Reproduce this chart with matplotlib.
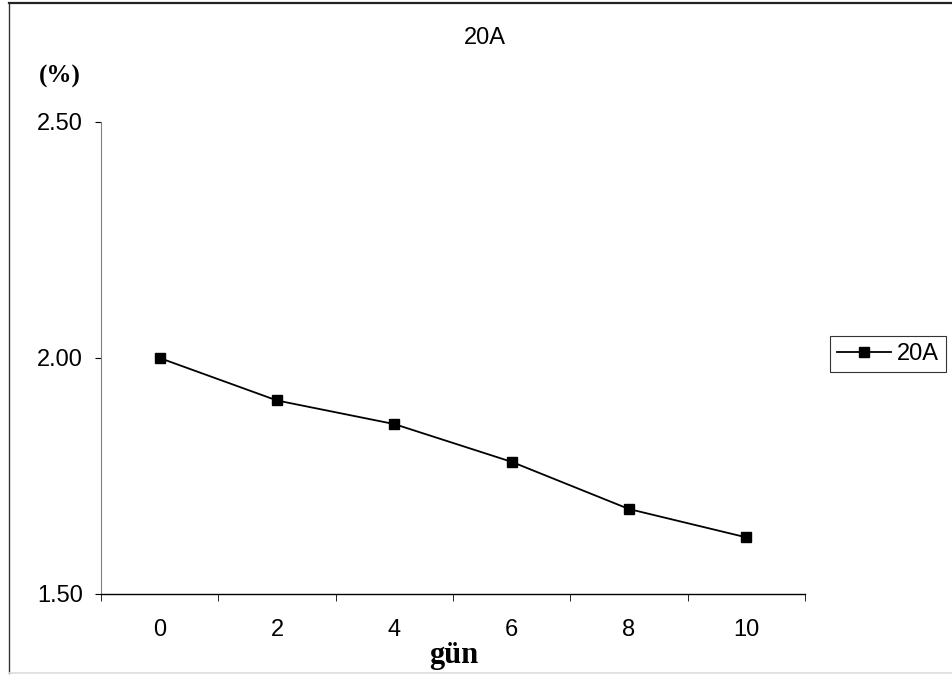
import matplotlib.pyplot as plt
from matplotlib.lines import Line2D
import numpy as np

# data
days = ['0', '2', '4', '6', '8', '10']
values_20a = [2.00, 1.91, 1.86, 1.78, 1.68, 1.62]
y_ticks = [1.50, 2.00, 2.50]

W, H = 953, 675
fig = plt.figure(figsize=(W / 100, H / 100), dpi=100)
ax = fig.add_axes([101 / W, 1 - 594 / H, (805 - 101) / W, (594 - 122) / H])

x = np.arange(len(days))
ax.plot(x, values_20a, color='black', linewidth=1.3, marker='s', markersize=7,
        label='20A')

# axes like an old Excel chart: left and bottom lines only
ax.set_xlim(-0.5, len(days) - 0.5)
ax.set_ylim(1.5, 2.5)
for side in ['top', 'right']:
    ax.spines[side].set_visible(False)
ax.spines['left'].set_color('#808080')
ax.spines['bottom'].set_color('black')
ax.spines['bottom'].set_linewidth(1.0)

ax.set_yticks(y_ticks)
ax.set_yticklabels(['%.2f' % v for v in y_ticks], fontsize=17, family='Liberation Sans')
ax.tick_params(axis='y', direction='out', length=4, color='black', pad=9)

# category labels in the middle, tick marks between categories
ax.set_xticks(x)
ax.set_xticklabels(days, fontsize=17, family='Liberation Sans')
ax.set_xticks(np.arange(-0.5, len(days)), minor=True)
ax.tick_params(axis='x', which='major', length=0, pad=18)
ax.tick_params(axis='x', which='minor', direction='out', length=5, color='black')

# texts
fig.text(485 / W, 1 - 38 / H, '20A', ha='center', va='center', fontsize=17,
         family='Liberation Sans')
fig.text(60 / W, 1 - 76 / H, '(%)', ha='center', va='center', fontsize=18,
         family='Liberation Serif', fontweight='bold')
fig.text(454 / W, 1 - 656 / H, 'gün', ha='center', va='center', fontsize=22,
         family='Liberation Serif', fontweight='bold')

# legend box on the right
leg = fig.legend(loc='center', bbox_to_anchor=(888 / W, 1 - 354 / H),
                 prop={'family': 'Liberation Sans', 'size': 17}, frameon=True,
                 fancybox=False, edgecolor='black', handlelength=2.3,
                 handletextpad=0.25, borderpad=0.3, borderaxespad=0)
leg.get_frame().set_linewidth(0.8)

# outer chart border: dark top and left, faint bottom
fig.add_artist(Line2D([9 / W, 1], [1 - 3 / H, 1 - 3 / H], color='#222222', linewidth=1.6))
fig.add_artist(Line2D([9 / W, 9 / W], [1 - 3 / H, 1 - 673 / H], color='#333333', linewidth=1.0))
fig.add_artist(Line2D([9 / W, 1], [1 - 673 / H, 1 - 673 / H], color='#dddddd', linewidth=1.2))

plt.savefig('out.png', dpi=100)
plt.close(fig)
